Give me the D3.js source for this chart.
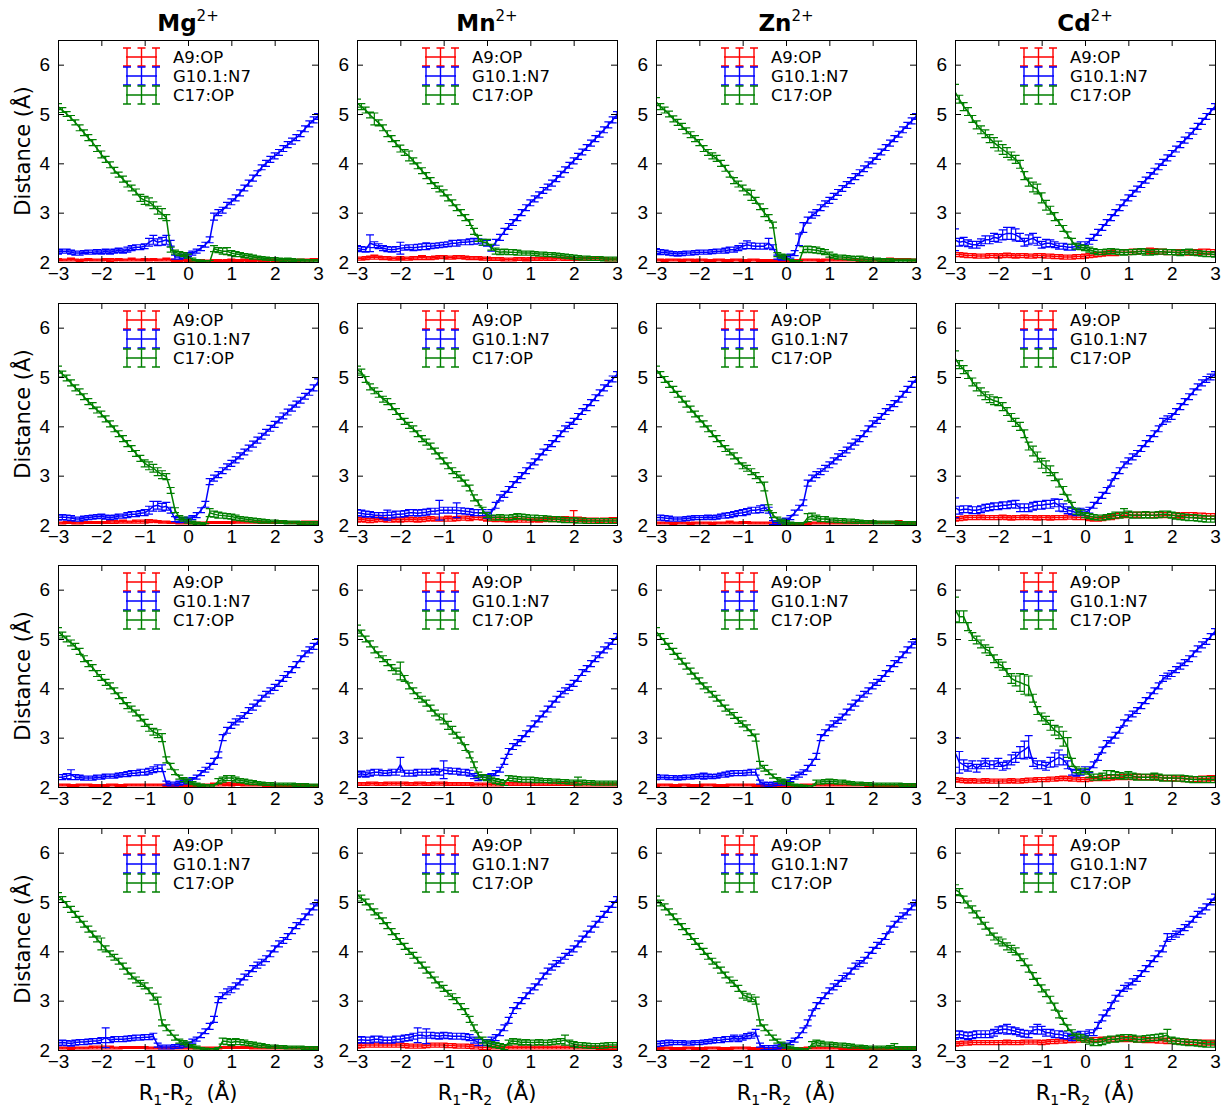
<!DOCTYPE html>
<html>
<head>
<meta charset="utf-8">
<script src="https://d3js.org/d3.v7.min.js"></script>
<style>
  body { margin: 0; background: #fff; }
  svg { font-family: "DejaVu Sans", sans-serif; }
  .tick line { stroke: #000; stroke-width: 1; }
  .tick text { font-size: 19px; fill: #000; }
</style>
</head>
<body>
<script>
// x grid (R1-R2, Å)
var xs = [-3,-2.9,-2.8,-2.7,-2.6,-2.5,-2.4,-2.3,-2.2,-2.1,-2,-1.9,-1.8,-1.7,-1.6,-1.5,-1.4,-1.3,-1.2,-1.1,
  -1,-0.9,-0.8,-0.7,-0.6,-0.5,-0.4,-0.3,-0.2,-0.1,0,0.1,0.2,0.3,0.4,0.5,0.6,0.7,0.8,0.9,1,
  1.1,1.2,1.3,1.4,1.5,1.6,1.7,1.8,1.9,2,2.1,2.2,2.3,2.4,2.5,2.6,2.7,2.8,2.9,3];
var ions = ["Mg", "Mn", "Zn", "Cd"];
var seriesNames = ["A9:OP", "G10.1:N7", "C17:OP"];
var xTicks = [-3, -2, -1, 0, 1, 2, 3];
var yTicks = [2, 3, 4, 5, 6];

// distances (Å); *_err = error bar half-length in 0.01 Å

// ---- row 1 ----
var mg1_a9 = [2.05,2.04,2.04,2.05,2.04,2.03,2.04,2.05,2.04,2.04, 2.04,2.05,2.04,2.04,2.05,2.04,2.04,2.05,2.04,2.04,
  2.05,2.04,2.05,2.04,2.04,2.05,2.04,2.03,2.03,2.04, 2.03,
  2.02,2.02,2.03,2.02,2.02,2.03,2.03,2.02,2.03,2.04, 2.03,2.03,2.04,2.03,2.03,2.04,2.03,2.03,2.04,2.03,
  2.03,2.03,2.04,2.04,2.03,2.04,2.04,2.04,2.05,2.05];
var mg1_n7 = [2.20,2.22,2.22,2.20,2.18,2.18,2.20,2.20,2.20,2.21, 2.20,2.22,2.20,2.22,2.24,2.22,2.25,2.28,2.30,2.30,
  2.32,2.40,2.45,2.40,2.42,2.45,2.38,2.10,2.10,2.12, 2.15,
  2.18,2.22,2.28,2.35,2.45,2.92,3.00,3.05,3.15,3.22, 3.30,3.40,3.50,3.60,3.70,3.80,3.92,4.00,4.08,4.15,
  4.22,4.30,4.38,4.45,4.52,4.60,4.70,4.80,4.88,4.95];
var mg1_c17 = [5.15,5.08,5.00,4.92,4.83,4.72,4.62,4.52,4.42,4.30, 4.18,4.08,3.97,3.86,3.77,3.68,3.58,3.50,3.42,3.30,
  3.25,3.22,3.15,3.05,2.98,2.90,2.25,2.20,2.17,2.15, 2.12,
  2.05,2.02,2.01,2.00,2.00,2.27,2.24,2.22,2.22,2.18, 2.16,2.15,2.13,2.12,2.10,2.09,2.08,2.07,2.06,2.06,
  2.05,2.04,2.05,2.04,2.03,2.03,2.02,2.02,2.02,2.02];
var mg1_a9_err = [2,2,2,3,2,2,2,2,2,2, 2,2,3,2,2,2,2,3,2,2, 2,2,2,2,2,3,2,2,2,2, 2,
  2,2,2,2,2,2,2,2,2,2, 2,2,2,2,2,2,2,2,2,2, 2,2,2,2,2,2,2,2,2,2];
var mg1_n7_err = [4,4,4,4,4,4,3,4,4,4, 4,4,4,4,4,4,5,5,5,5, 5,8,9,7,8,9,6,4,4,4, 4,
  4,4,5,5,6,7,6,6,6,6, 6,6,6,6,6,5,5,6,6,6, 6,6,6,6,6,6,6,6,6,6];
var mg1_c17_err = [6,5,5,5,5,6,6,6,6,6, 7,6,6,6,5,6,6,6,6,7, 8,8,7,8,10,6,5,4,4,4, 4,
  3,3,3,3,3,6,5,6,7,5, 5,4,4,4,4,3,3,3,3,3, 3,3,3,3,3,3,3,3,3,3];

var mn1_a9 = [2.07,2.07,2.08,2.09,2.10,2.09,2.08,2.08,2.07,2.07, 2.08,2.07,2.07,2.08,2.08,2.09,2.08,2.08,2.09,2.10,
  2.10,2.09,2.09,2.10,2.10,2.09,2.08,2.08,2.08,2.07, 2.07,
  2.06,2.06,2.06,2.05,2.05,2.05,2.06,2.06,2.05,2.06, 2.06,2.06,2.07,2.06,2.06,2.07,2.07,2.06,2.06,2.06,
  2.06,2.07,2.06,2.06,2.06,2.06,2.06,2.05,2.05,2.05];
var mn1_n7 = [2.28,2.26,2.25,2.38,2.35,2.32,2.28,2.26,2.25,2.26, 2.28,2.29,2.30,2.29,2.30,2.31,2.32,2.32,2.33,2.34,
  2.35,2.36,2.38,2.38,2.40,2.40,2.41,2.42,2.42,2.40, 2.38,
  2.28,2.40,2.50,2.62,2.72,2.80,2.90,3.00,3.10,3.20, 3.28,3.36,3.45,3.52,3.60,3.69,3.78,3.87,3.96,4.05,
  4.14,4.23,4.32,4.41,4.50,4.59,4.68,4.78,4.88,4.98];
var mn1_c17 = [5.22,5.15,5.08,4.98,4.90,4.82,4.72,4.60,4.50,4.40, 4.30,4.22,4.15,4.05,3.95,3.85,3.75,3.65,3.55,3.48,
  3.40,3.30,3.20,3.10,3.00,2.90,2.80,2.62,2.48,2.40, 2.40,
  2.30,2.22,2.20,2.21,2.20,2.20,2.19,2.18,2.18,2.18, 2.17,2.16,2.16,2.15,2.15,2.14,2.13,2.12,2.11,2.10,
  2.09,2.08,2.08,2.07,2.07,2.07,2.06,2.06,2.06,2.06];
var mn1_a9_err = [3,3,3,3,4,3,3,3,3,3, 3,3,3,3,3,4,3,3,3,3, 3,3,3,3,3,3,3,3,3,3, 3,
  3,3,3,3,3,3,3,3,3,3, 3,3,3,3,3,3,3,3,3,3, 3,3,3,3,3,3,3,3,3,3];
var mn1_n7_err = [5,5,5,17,6,5,5,5,5,5, 12,5,5,6,6,6,7,5,5,5, 5,5,6,6,5,5,6,6,5,6, 6,
  6,6,6,6,6,6,6,6,6,6, 6,6,6,6,6,6,6,6,6,6, 6,6,6,6,6,6,6,6,6,7];
var mn1_c17_err = [8,6,6,6,12,6,6,6,6,6, 7,6,10,6,6,6,6,6,6,6, 6,6,6,6,6,6,6,6,6,6, 6,
  6,6,5,5,5,5,5,4,4,4, 4,4,4,4,4,4,4,4,4,4, 4,4,4,4,4,4,4,4,4,4];

var zn1_a9 = [2.04,2.04,2.03,2.04,2.04,2.04,2.03,2.04,2.04,2.03, 2.04,2.04,2.03,2.03,2.04,2.04,2.03,2.03,2.04,2.04,
  2.03,2.03,2.04,2.04,2.03,2.03,2.03,2.03,2.03,2.03, 2.03,
  2.03,2.03,2.03,2.04,2.04,2.04,2.04,2.03,2.04,2.04, 2.04,2.04,2.04,2.04,2.04,2.04,2.03,2.04,2.04,2.04,
  2.04,2.04,2.04,2.05,2.05,2.05,2.05,2.05,2.04,2.04];
var zn1_n7 = [2.22,2.20,2.20,2.18,2.17,2.16,2.17,2.18,2.18,2.19, 2.20,2.20,2.20,2.21,2.22,2.22,2.23,2.25,2.25,2.28,
  2.32,2.35,2.33,2.32,2.32,2.32,2.38,2.30,2.10,2.08, 2.10,
  2.12,2.18,2.45,2.70,2.85,2.95,3.00,3.10,3.18,3.25, 3.33,3.41,3.49,3.57,3.65,3.73,3.81,3.89,3.97,4.05,
  4.14,4.23,4.32,4.41,4.50,4.59,4.68,4.77,4.86,4.95];
var zn1_c17 = [5.25,5.15,5.08,5.00,4.90,4.83,4.75,4.66,4.58,4.50, 4.42,4.30,4.22,4.15,4.10,4.00,3.90,3.78,3.65,3.58,
  3.50,3.42,3.35,3.25,3.12,3.00,2.90,2.75,2.15,2.12, 2.10,
  2.02,2.00,2.00,2.25,2.26,2.25,2.24,2.22,2.20,2.15, 2.12,2.10,2.10,2.09,2.08,2.07,2.06,2.06,2.05,2.05,
  2.05,2.04,2.04,2.04,2.03,2.03,2.03,2.03,2.03,2.03];
var zn1_a9_err = [2,2,2,2,2,2,2,2,2,2, 2,2,2,2,2,2,2,2,2,2, 2,2,2,2,2,2,2,2,2,2, 2,
  2,2,2,2,2,2,2,2,2,2, 2,2,2,2,2,2,2,2,2,2, 2,2,2,3,2,2,2,2,2,2];
var zn1_n7_err = [5,5,4,4,4,4,4,4,4,4, 4,4,4,4,4,4,5,5,5,5, 6,8,6,6,6,6,10,5,4,4, 4,
  4,5,12,10,6,6,6,6,6,6, 6,6,6,6,6,6,6,6,6,6, 6,6,6,6,6,6,6,6,6,6];
var zn1_c17_err = [8,6,6,6,6,6,6,6,6,6, 6,6,6,6,6,6,6,6,6,6, 6,6,10,6,6,8,6,6,4,4, 4,
  3,3,3,6,6,6,6,5,5,5, 4,4,4,4,4,4,6,4,4,3, 3,3,3,3,3,3,3,3,3,3];

var cd1_a9 = [2.15,2.15,2.14,2.13,2.13,2.12,2.12,2.12,2.13,2.13, 2.12,2.13,2.14,2.13,2.12,2.13,2.13,2.12,2.12,2.13,
  2.13,2.12,2.12,2.11,2.11,2.10,2.10,2.10,2.11,2.11, 2.12,
  2.13,2.14,2.15,2.16,2.18,2.18,2.19,2.20,2.20,2.20, 2.21,2.21,2.22,2.22,2.22,2.22,2.21,2.21,2.20,2.20,
  2.20,2.20,2.20,2.19,2.20,2.20,2.21,2.21,2.20,2.20];
var cd1_n7 = [2.45,2.40,2.42,2.38,2.35,2.35,2.40,2.45,2.45,2.50, 2.48,2.55,2.58,2.58,2.55,2.50,2.40,2.45,2.48,2.42,
  2.35,2.38,2.38,2.35,2.32,2.32,2.30,2.30,2.32,2.35, 2.35,
  2.42,2.50,2.60,2.70,2.80,2.90,3.00,3.10,3.20,3.30, 3.39,3.48,3.57,3.66,3.75,3.84,3.93,4.02,4.11,4.20,
  4.29,4.38,4.47,4.56,4.65,4.75,4.85,4.95,5.05,5.15];
var cd1_c17 = [5.45,5.30,5.15,5.05,4.90,4.78,4.68,4.60,4.50,4.42, 4.35,4.28,4.22,4.15,4.08,3.98,3.75,3.62,3.52,3.48,
  3.30,3.15,3.05,2.92,2.80,2.68,2.55,2.42,2.32,2.30, 2.28,
  2.25,2.22,2.20,2.20,2.21,2.22,2.21,2.20,2.19,2.20, 2.20,2.21,2.22,2.20,2.19,2.20,2.21,2.21,2.20,2.20,
  2.19,2.18,2.20,2.21,2.19,2.18,2.17,2.16,2.16,2.15];
var cd1_a9_err = [4,4,4,4,4,4,4,4,4,4, 4,4,4,4,4,4,4,4,4,4, 4,4,4,4,4,4,4,4,4,4, 4,
  4,4,4,4,4,5,6,5,5,5, 5,5,5,5,6,5,5,5,5,5, 5,5,5,5,5,5,5,5,5,5];
var cd1_n7_err = [22,8,8,7,7,7,7,8,8,8, 8,10,12,12,12,8,8,10,10,8, 7,8,7,6,6,6,6,6,6,6, 6,
  6,6,6,6,6,6,6,6,6,6, 6,6,6,6,6,6,6,6,6,6, 6,6,6,6,6,6,6,6,6,6];
var cd1_c17_err = [15,8,8,8,7,8,8,8,8,10, 10,10,10,8,8,8,8,8,10,10, 10,10,8,8,6,6,6,6,6,5, 5,
  5,5,5,5,5,5,5,5,5,5, 5,5,5,6,5,5,5,5,5,5, 5,5,5,5,5,5,5,5,5,5];

// ---- row 2 ----
var mg2_a9 = [2.04,2.04,2.05,2.05,2.04,2.04,2.05,2.05,2.05,2.05, 2.05,2.05,2.06,2.06,2.06,2.07,2.06,2.06,2.07,2.07,
  2.07,2.08,2.08,2.07,2.06,2.06,2.05,2.05,2.04,2.04, 2.04,
  2.04,2.04,2.04,2.04,2.05,2.05,2.05,2.05,2.05,2.05, 2.06,2.06,2.06,2.06,2.06,2.06,2.05,2.05,2.05,2.05,
  2.05,2.05,2.05,2.05,2.05,2.05,2.06,2.06,2.06,2.06];
var mg2_n7 = [2.15,2.16,2.15,2.14,2.12,2.12,2.14,2.15,2.16,2.17, 2.18,2.16,2.15,2.16,2.18,2.18,2.20,2.22,2.22,2.24,
  2.25,2.30,2.38,2.40,2.36,2.38,2.30,2.12,2.10,2.10, 2.12,
  2.15,2.20,2.30,2.42,2.88,2.95,3.02,3.10,3.18,3.25, 3.32,3.40,3.48,3.56,3.64,3.72,3.80,3.88,3.96,4.04,
  4.13,4.21,4.29,4.37,4.45,4.53,4.61,4.69,4.78,4.90];
var mg2_c17 = [5.15,5.06,4.98,4.88,4.78,4.70,4.60,4.50,4.42,4.33, 4.25,4.15,4.05,3.95,3.85,3.75,3.65,3.55,3.45,3.35,
  3.25,3.20,3.15,3.08,3.02,2.98,2.70,2.30,2.15,2.12, 2.08,
  2.05,2.03,2.02,2.00,2.25,2.22,2.20,2.19,2.18,2.17, 2.15,2.13,2.12,2.11,2.10,2.09,2.08,2.08,2.07,2.07,
  2.06,2.06,2.05,2.05,2.05,2.04,2.04,2.04,2.04,2.04];
var mg2_a9_err = [2,2,2,2,2,2,2,2,2,2, 2,2,3,3,2,3,2,2,3,3, 3,3,2,2,2,2,2,2,2,2, 2,
  2,2,2,2,2,2,2,2,2,2, 2,2,2,2,2,2,2,2,2,2, 2,2,2,2,2,2,2,2,2,2];
var mg2_n7_err = [5,5,5,5,4,4,4,4,4,4, 4,4,4,4,4,4,5,5,5,5, 6,8,10,8,8,8,6,5,5,4, 4,
  4,5,5,6,6,6,6,6,6,6, 6,6,6,6,6,6,6,6,6,6, 6,6,6,6,6,6,6,6,6,6];
var mg2_c17_err = [7,6,6,6,6,6,6,6,6,6, 6,6,6,6,6,6,6,6,6,6, 7,8,8,8,8,6,6,5,4,4, 4,
  3,3,3,3,8,6,6,5,5,5, 5,4,4,4,4,4,4,3,3,3, 3,3,3,3,3,3,3,3,3,3];

var mn2_a9 = [2.10,2.11,2.10,2.09,2.10,2.12,2.11,2.10,2.10,2.11, 2.10,2.11,2.12,2.11,2.10,2.11,2.12,2.13,2.12,2.12,
  2.12,2.13,2.12,2.13,2.14,2.14,2.13,2.15,2.15,2.14, 2.12,
  2.12,2.11,2.12,2.11,2.10,2.11,2.10,2.10,2.10,2.10, 2.11,2.10,2.11,2.12,2.11,2.12,2.12,2.13,2.12,2.14,
  2.12,2.11,2.10,2.10,2.10,2.09,2.10,2.10,2.10,2.10];
var mn2_n7 = [2.25,2.24,2.22,2.22,2.20,2.20,2.19,2.20,2.20,2.22, 2.22,2.23,2.25,2.25,2.24,2.25,2.26,2.28,2.28,2.30,
  2.30,2.30,2.30,2.30,2.29,2.28,2.27,2.25,2.25,2.25, 2.20,
  2.25,2.40,2.55,2.62,2.72,2.82,2.92,3.00,3.10,3.20, 3.28,3.38,3.48,3.57,3.65,3.75,3.85,3.95,4.02,4.10,
  4.20,4.30,4.38,4.48,4.58,4.68,4.78,4.87,4.96,5.05];
var mn2_c17 = [5.15,5.10,4.95,4.80,4.72,4.65,4.55,4.50,4.40,4.30, 4.20,4.10,4.02,3.95,3.85,3.75,3.68,3.60,3.50,3.40,
  3.30,3.20,3.10,3.02,2.95,2.85,2.75,2.55,2.45,2.30, 2.20,
  2.15,2.15,2.16,2.15,2.15,2.16,2.18,2.17,2.16,2.15, 2.15,2.14,2.14,2.13,2.12,2.12,2.11,2.10,2.10,2.10,
  2.09,2.09,2.08,2.08,2.08,2.08,2.08,2.08,2.08,2.08];
var mn2_a9_err = [4,4,4,4,4,4,4,4,4,4, 4,4,4,4,4,4,4,4,4,4, 4,5,4,4,4,4,4,4,4,4, 4,
  4,4,4,4,4,4,4,4,4,4, 4,4,4,4,4,4,4,4,4,15, 4,4,4,4,4,4,4,4,5,5];
var mn2_n7_err = [6,6,6,5,5,5,6,10,6,6, 6,6,6,6,6,6,6,6,6,20, 6,6,6,15,6,6,6,6,6,6, 6,
  6,6,6,6,6,6,6,6,6,6, 6,6,6,6,6,6,6,6,6,6, 6,6,6,6,6,6,6,6,6,6];
var mn2_c17_err = [7,6,6,6,6,6,6,6,6,6, 6,6,6,6,6,6,6,6,6,6, 6,6,6,6,6,6,6,6,6,6, 5,
  5,5,5,5,5,5,5,5,5,5, 5,5,5,5,5,5,5,5,5,5, 5,5,5,5,5,5,5,5,5,5];

var zn2_a9 = [2.04,2.04,2.04,2.04,2.03,2.04,2.04,2.04,2.03,2.04, 2.04,2.04,2.04,2.03,2.04,2.04,2.04,2.05,2.04,2.04,
  2.05,2.05,2.04,2.04,2.04,2.04,2.04,2.04,2.03,2.03, 2.03,
  2.03,2.03,2.03,2.03,2.03,2.04,2.04,2.04,2.04,2.04, 2.04,2.04,2.04,2.04,2.04,2.04,2.05,2.04,2.04,2.05,
  2.05,2.05,2.05,2.05,2.05,2.06,2.05,2.05,2.05,2.05];
var zn2_n7 = [2.15,2.15,2.14,2.13,2.12,2.12,2.12,2.13,2.14,2.15, 2.15,2.15,2.16,2.15,2.16,2.18,2.19,2.20,2.22,2.24,
  2.25,2.27,2.30,2.30,2.32,2.35,2.30,2.05,2.05,2.08, 2.10,
  2.15,2.25,2.35,2.45,2.85,2.95,3.02,3.08,3.15,3.22, 3.30,3.38,3.45,3.52,3.60,3.68,3.75,3.85,3.95,4.05,
  4.12,4.20,4.30,4.38,4.46,4.55,4.65,4.75,4.85,4.95];
var zn2_c17 = [5.15,5.05,4.95,4.85,4.75,4.65,4.55,4.45,4.35,4.25, 4.15,4.05,3.95,3.85,3.75,3.65,3.55,3.48,3.40,3.30,
  3.20,3.15,3.08,3.00,2.92,2.78,2.35,2.20,2.12,2.08, 2.05,
  2.03,2.02,2.02,2.02,2.15,2.18,2.15,2.12,2.12,2.10, 2.10,2.09,2.09,2.08,2.08,2.07,2.07,2.06,2.06,2.06,
  2.05,2.05,2.05,2.05,2.05,2.04,2.04,2.04,2.04,2.04];
var zn2_a9_err = [2,2,2,2,2,2,2,2,2,2, 2,2,2,2,2,2,2,3,2,2, 2,2,2,2,2,2,2,2,2,2, 2,
  2,2,2,2,2,2,2,2,2,2, 2,2,2,2,2,2,2,2,2,2, 2,2,2,2,2,3,2,2,2,2];
var zn2_n7_err = [5,5,5,5,4,4,4,4,4,4, 4,4,4,4,4,4,5,5,5,5, 6,6,6,6,7,6,6,4,4,4, 4,
  4,5,5,6,6,6,6,6,6,6, 6,6,6,6,6,6,6,6,6,6, 6,6,6,6,6,6,6,6,6,6];
var zn2_c17_err = [7,6,6,6,6,6,6,6,6,6, 6,6,6,6,6,6,6,6,6,6, 6,6,6,6,6,9,6,5,4,4, 4,
  3,3,3,3,8,6,5,5,5,4, 4,4,4,4,4,4,3,3,3,3, 3,3,3,3,3,3,3,3,3,3];

var cd2_a9 = [2.12,2.13,2.14,2.15,2.15,2.15,2.16,2.15,2.15,2.15, 2.15,2.16,2.15,2.14,2.15,2.15,2.16,2.15,2.15,2.14,
  2.15,2.15,2.14,2.15,2.15,2.15,2.16,2.16,2.15,2.15, 2.15,
  2.13,2.12,2.12,2.13,2.15,2.16,2.18,2.20,2.20,2.20, 2.20,2.21,2.20,2.20,2.20,2.20,2.21,2.20,2.20,2.20,
  2.20,2.19,2.20,2.20,2.20,2.19,2.19,2.18,2.18,2.18];
var cd2_n7 = [2.35,2.30,2.32,2.32,2.30,2.30,2.32,2.35,2.36,2.38, 2.38,2.40,2.40,2.42,2.42,2.35,2.35,2.35,2.38,2.40,
  2.40,2.42,2.42,2.45,2.40,2.35,2.30,2.28,2.25,2.28, 2.25,
  2.30,2.40,2.50,2.60,2.70,2.85,3.00,3.10,3.22,3.30, 3.38,3.45,3.55,3.65,3.75,3.85,3.95,4.10,4.15,4.20,
  4.30,4.40,4.50,4.60,4.70,4.80,4.88,4.95,5.00,5.05];
var cd2_c17 = [5.38,5.25,5.15,5.05,4.90,4.80,4.70,4.62,4.56,4.52, 4.50,4.40,4.30,4.18,4.08,4.00,3.85,3.60,3.50,3.38,
  3.25,3.18,3.10,2.98,2.85,2.70,2.55,2.40,2.28,2.25, 2.20,
  2.18,2.16,2.15,2.15,2.16,2.18,2.20,2.20,2.25,2.22, 2.20,2.20,2.20,2.21,2.20,2.20,2.21,2.22,2.22,2.20,
  2.18,2.17,2.16,2.15,2.15,2.14,2.13,2.12,2.12,2.12];
var cd2_a9_err = [4,4,4,4,4,4,4,4,4,4, 4,4,4,4,4,4,4,4,4,4, 4,4,4,4,4,4,4,4,4,4, 4,
  4,4,4,4,4,5,5,5,5,5, 5,5,5,5,5,5,5,5,5,5, 5,5,5,5,5,5,5,5,5,5];
var cd2_n7_err = [20,8,7,7,7,7,7,7,7,7, 7,7,7,7,8,8,8,8,8,8, 8,8,8,8,12,8,7,7,6,6, 6,
  6,6,6,6,6,6,6,6,6,6, 6,6,6,6,6,6,6,6,6,6, 6,6,6,6,6,6,6,6,6,6];
var cd2_c17_err = [15,8,8,8,8,8,8,8,8,8, 8,8,8,8,8,8,8,8,10,10, 10,12,10,8,8,8,6,6,6,5, 5,
  5,5,5,5,5,5,6,6,8,6, 6,6,6,6,6,6,6,6,6,6, 6,6,6,6,6,6,6,6,6,6];

// ---- row 3 ----
var mg3_a9 = [2.04,2.04,2.04,2.03,2.03,2.04,2.04,2.04,2.03,2.03, 2.03,2.03,2.04,2.04,2.03,2.03,2.04,2.04,2.04,2.04,
  2.04,2.04,2.04,2.04,2.04,2.03,2.03,2.03,2.03,2.03, 2.03,
  2.02,2.03,2.03,2.04,2.04,2.05,2.05,2.05,2.06,2.05, 2.05,2.05,2.04,2.04,2.04,2.04,2.04,2.03,2.03,2.03,
  2.03,2.03,2.03,2.03,2.03,2.03,2.03,2.03,2.03,2.03];
var mg3_n7 = [2.20,2.20,2.22,2.25,2.20,2.20,2.18,2.18,2.18,2.20, 2.20,2.22,2.22,2.22,2.24,2.25,2.26,2.28,2.28,2.30,
  2.30,2.32,2.35,2.38,2.38,2.08,2.06,2.06,2.08,2.10, 2.12,
  2.15,2.20,2.28,2.35,2.42,2.52,2.65,3.00,3.15,3.25, 3.32,3.38,3.45,3.55,3.62,3.70,3.80,3.88,3.95,4.02,
  4.10,4.20,4.28,4.38,4.48,4.60,4.70,4.78,4.85,4.95];
var mg3_c17 = [5.15,5.08,5.00,4.92,4.85,4.75,4.60,4.50,4.42,4.30, 4.22,4.12,4.05,3.95,3.85,3.75,3.65,3.58,3.50,3.40,
  3.30,3.20,3.12,3.08,3.00,2.55,2.42,2.30,2.20,2.15, 2.12,
  2.08,2.05,2.03,2.02,2.02,2.02,2.12,2.15,2.18,2.18, 2.15,2.13,2.12,2.10,2.09,2.08,2.07,2.06,2.06,2.05,
  2.05,2.05,2.05,2.05,2.04,2.04,2.04,2.03,2.03,2.03];
var mg3_a9_err = [2,2,2,2,2,2,2,2,2,2, 2,2,2,2,2,2,2,2,2,2, 2,2,2,2,2,2,2,2,2,2, 2,
  2,2,2,2,2,3,3,3,3,3, 2,2,2,2,2,2,2,2,2,2, 2,2,2,2,2,2,2,2,2,2];
var mg3_n7_err = [5,5,5,10,5,4,4,4,4,4, 4,4,4,4,4,4,5,5,5,6, 6,6,6,7,7,4,4,4,4,4, 4,
  4,4,5,5,6,6,6,6,6,6, 6,6,6,6,6,6,6,6,6,6, 6,6,6,6,6,6,6,6,6,6];
var mg3_c17_err = [8,6,6,6,6,6,6,6,6,6, 6,6,6,6,6,6,6,6,6,6, 7,7,7,8,8,6,6,5,4,4, 4,
  3,3,3,3,3,3,5,5,5,5, 5,4,4,4,4,3,3,3,3,3, 3,3,3,3,3,3,3,3,3,3];

var mn3_a9 = [2.06,2.06,2.06,2.07,2.07,2.06,2.06,2.07,2.07,2.07, 2.07,2.07,2.06,2.06,2.07,2.07,2.06,2.06,2.07,2.07,
  2.07,2.06,2.06,2.06,2.06,2.06,2.06,2.05,2.05,2.05, 2.05,
  2.05,2.05,2.05,2.06,2.06,2.06,2.06,2.06,2.06,2.06, 2.06,2.06,2.06,2.06,2.06,2.06,2.06,2.06,2.06,2.06,
  2.05,2.05,2.05,2.05,2.05,2.05,2.05,2.05,2.05,2.05];
var mn3_n7 = [2.25,2.27,2.25,2.28,2.30,2.30,2.28,2.28,2.30,2.30, 2.45,2.28,2.28,2.28,2.30,2.30,2.30,2.30,2.32,2.30,
  2.35,2.33,2.32,2.32,2.30,2.30,2.28,2.22,2.18,2.20, 2.20,
  2.22,2.28,2.35,2.52,2.72,2.82,2.90,2.98,3.08,3.18, 3.28,3.38,3.48,3.58,3.68,3.78,3.88,3.95,4.02,4.10,
  4.20,4.32,4.40,4.50,4.60,4.68,4.78,4.86,4.95,5.05];
var mn3_c17 = [5.20,5.12,5.00,4.90,4.78,4.68,4.60,4.52,4.42,4.35, 4.35,4.20,4.05,3.95,3.85,3.78,3.70,3.60,3.50,3.42,
  3.38,3.25,3.15,3.05,2.95,2.80,2.65,2.45,2.25,2.20, 2.18,
  2.15,2.12,2.10,2.08,2.18,2.17,2.16,2.15,2.15,2.15, 2.14,2.14,2.13,2.13,2.12,2.12,2.11,2.11,2.10,2.10,
  2.12,2.10,2.09,2.09,2.08,2.08,2.08,2.08,2.08,2.08];
var mn3_a9_err = [3,3,3,3,3,3,3,3,3,3, 3,3,3,3,3,3,3,3,3,3, 3,3,3,3,3,3,3,3,3,3, 3,
  3,3,3,3,3,3,3,3,3,3, 3,3,3,3,3,3,3,3,3,3, 3,3,3,3,3,3,3,3,3,3];
var mn3_n7_err = [5,5,5,6,6,6,5,5,6,6, 15,6,6,6,6,6,6,6,6,6, 18,6,6,6,6,6,6,5,5,5, 5,
  5,5,5,6,6,6,6,6,6,6, 6,6,6,6,6,6,6,6,6,6, 6,6,6,6,6,6,6,6,6,6];
var mn3_c17_err = [8,6,6,6,6,6,6,6,6,6, 18,6,6,6,6,6,6,6,6,6, 10,8,8,6,6,6,6,6,5,5, 5,
  5,5,5,5,5,5,5,5,5,5, 5,4,4,4,4,4,4,4,4,4, 8,4,4,4,4,4,4,4,4,4];

var zn3_a9 = [2.03,2.04,2.04,2.04,2.03,2.03,2.04,2.04,2.03,2.03, 2.03,2.04,2.04,2.04,2.03,2.03,2.03,2.04,2.04,2.04,
  2.04,2.04,2.04,2.03,2.03,2.03,2.03,2.03,2.03,2.03, 2.03,
  2.03,2.03,2.03,2.04,2.04,2.04,2.04,2.04,2.04,2.04, 2.04,2.04,2.04,2.04,2.04,2.04,2.04,2.04,2.03,2.03,
  2.03,2.03,2.03,2.03,2.03,2.03,2.03,2.03,2.03,2.03];
var zn3_n7 = [2.20,2.20,2.20,2.19,2.19,2.18,2.19,2.20,2.20,2.21, 2.22,2.22,2.22,2.21,2.22,2.24,2.25,2.27,2.28,2.28,
  2.28,2.29,2.30,2.30,2.10,2.06,2.05,2.06,2.07,2.08, 2.10,
  2.15,2.20,2.25,2.30,2.38,2.50,2.62,3.00,3.10,3.20, 3.28,3.35,3.42,3.52,3.62,3.70,3.80,3.88,3.95,4.05,
  4.12,4.20,4.30,4.40,4.50,4.58,4.68,4.78,4.88,4.95];
var zn3_c17 = [5.15,5.05,4.95,4.85,4.75,4.65,4.55,4.45,4.35,4.25, 4.15,4.05,3.97,3.88,3.80,3.70,3.60,3.52,3.45,3.35,
  3.28,3.20,3.10,3.00,2.45,2.38,2.30,2.22,2.15,2.12, 2.10,
  2.06,2.03,2.02,2.01,2.00,2.00,2.10,2.10,2.11,2.12, 2.11,2.10,2.10,2.09,2.08,2.07,2.07,2.06,2.06,2.05,
  2.05,2.05,2.05,2.05,2.05,2.05,2.04,2.04,2.04,2.04];
var zn3_a9_err = [2,2,2,2,2,2,2,2,2,2, 2,2,2,2,2,2,2,2,2,2, 2,2,2,2,2,2,2,2,2,2, 2,
  2,2,2,2,2,2,2,2,2,2, 2,2,2,2,2,2,2,2,2,2, 2,2,2,2,2,2,2,2,2,2];
var zn3_n7_err = [5,4,4,4,4,4,4,4,4,4, 4,6,4,4,4,4,5,5,5,5, 5,5,6,6,4,4,4,4,4,4, 4,
  4,4,5,5,6,6,6,6,6,6, 6,6,6,6,6,6,6,6,6,6, 6,6,6,6,6,6,6,6,6,6];
var zn3_c17_err = [8,6,6,6,6,6,6,6,6,6, 6,6,6,6,6,6,6,6,6,6, 6,6,6,7,7,6,5,4,4,4, 4,
  3,3,3,3,3,3,4,4,4,4, 4,4,4,3,3,3,3,3,3,3, 3,3,3,3,3,3,3,3,3,3];

var cd3_a9 = [2.15,2.14,2.13,2.12,2.13,2.12,2.12,2.13,2.12,2.12, 2.12,2.12,2.12,2.13,2.12,2.12,2.13,2.14,2.14,2.15,
  2.15,2.15,2.16,2.16,2.17,2.18,2.17,2.16,2.16,2.15, 2.15,
  2.16,2.17,2.17,2.18,2.18,2.19,2.20,2.20,2.20,2.20, 2.20,2.21,2.20,2.20,2.20,2.19,2.19,2.18,2.18,2.18,
  2.17,2.17,2.16,2.16,2.15,2.16,2.17,2.17,2.18,2.18];
var cd3_n7 = [2.70,2.50,2.45,2.40,2.45,2.38,2.45,2.50,2.45,2.45, 2.50,2.42,2.45,2.55,2.60,2.70,2.75,2.82,2.50,2.45,
  2.45,2.42,2.50,2.55,2.60,2.55,2.45,2.30,2.28,2.30, 2.35,
  2.35,2.45,2.60,2.75,2.88,2.95,3.05,3.15,3.30,3.40, 3.48,3.55,3.65,3.75,3.85,3.95,4.05,4.20,4.25,4.30,
  4.38,4.45,4.52,4.60,4.70,4.80,4.88,4.95,5.05,5.15];
var cd3_c17 = [5.60,5.45,5.45,5.25,5.05,4.98,4.90,4.80,4.75,4.60, 4.50,4.45,4.32,4.20,4.15,4.12,4.08,4.05,3.80,3.55,
  3.42,3.35,3.25,3.15,3.10,2.98,2.80,2.50,2.35,2.32, 2.32,
  2.25,2.20,2.20,2.22,2.25,2.25,2.25,2.23,2.22,2.25, 2.22,2.20,2.20,2.20,2.20,2.22,2.20,2.18,2.18,2.18,
  2.18,2.18,2.17,2.16,2.15,2.15,2.15,2.15,2.15,2.15];
var cd3_a9_err = [4,4,4,4,4,4,4,4,4,4, 4,4,4,4,4,4,4,4,4,4, 4,4,4,4,4,4,4,4,4,4, 4,
  4,4,4,5,5,5,5,5,5,5, 5,5,5,5,5,5,5,5,5,5, 5,5,5,5,5,5,5,5,5,5];
var cd3_n7_err = [30,22,10,8,8,8,8,8,8,8, 8,8,8,10,10,12,18,22,8,8, 8,8,10,14,15,10,8,6,6,6, 6,
  6,6,6,6,6,6,6,6,6,6, 6,6,6,6,6,6,6,6,6,6, 6,6,6,6,6,6,6,6,6,6];
var cd3_c17_err = [25,12,12,8,8,8,8,8,8,8, 8,8,8,10,10,18,20,20,8,8, 8,8,10,10,12,15,20,8,6,6, 6,
  6,6,6,6,8,8,6,6,6,6, 6,6,6,6,6,6,6,6,6,6, 6,6,6,6,6,6,6,6,6,6];

// ---- row 4 ----
var mg4_a9 = [2.04,2.04,2.04,2.03,2.04,2.04,2.04,2.04,2.05,2.05, 2.05,2.05,2.05,2.04,2.04,2.05,2.05,2.05,2.05,2.05,
  2.05,2.04,2.04,2.04,2.04,2.04,2.04,2.04,2.04,2.04, 2.04,
  2.04,2.04,2.04,2.04,2.04,2.04,2.04,2.05,2.05,2.05, 2.05,2.05,2.05,2.05,2.04,2.04,2.04,2.04,2.04,2.04,
  2.04,2.04,2.04,2.04,2.04,2.04,2.04,2.04,2.04,2.04];
var mg4_n7 = [2.14,2.15,2.14,2.13,2.15,2.16,2.16,2.17,2.18,2.18, 2.20,2.25,2.20,2.22,2.22,2.22,2.23,2.24,2.25,2.25,
  2.26,2.26,2.28,2.10,2.06,2.06,2.06,2.07,2.08,2.10, 2.12,
  2.18,2.22,2.30,2.38,2.48,2.62,3.02,3.10,3.18,3.22, 3.30,3.38,3.48,3.55,3.65,3.72,3.78,3.85,3.95,4.05,
  4.15,4.22,4.30,4.42,4.52,4.60,4.70,4.80,4.90,4.98];
var mg4_c17 = [5.12,5.05,4.95,4.85,4.75,4.65,4.55,4.45,4.35,4.25, 4.15,4.05,3.95,3.88,3.80,3.70,3.60,3.50,3.42,3.35,
  3.30,3.20,3.08,3.00,2.55,2.45,2.35,2.25,2.18,2.15, 2.12,
  2.08,2.05,2.02,2.01,2.00,2.00,2.02,2.18,2.17,2.15, 2.17,2.16,2.15,2.13,2.12,2.10,2.09,2.08,2.07,2.07,
  2.06,2.06,2.05,2.05,2.05,2.05,2.04,2.04,2.04,2.04];
var mg4_a9_err = [2,2,2,2,2,2,2,2,3,3, 3,3,3,2,2,2,2,2,2,2, 2,2,2,2,2,2,2,2,2,2, 2,
  2,2,2,2,2,2,2,2,2,2, 2,2,2,2,2,2,2,2,2,2, 2,2,2,2,2,2,2,2,2,2];
var mg4_n7_err = [5,5,5,5,5,5,5,5,5,5, 5,20,5,5,5,5,5,5,5,5, 5,5,6,4,4,4,4,4,4,4, 4,
  4,4,5,5,6,6,6,6,6,6, 6,6,6,6,6,6,6,6,6,6, 6,6,6,6,6,6,6,6,6,6];
var mg4_c17_err = [7,6,6,6,6,6,6,6,6,6, 12,6,6,6,6,6,6,6,6,6, 6,6,7,7,6,6,5,5,4,4, 4,
  3,3,3,3,3,3,3,6,6,6, 6,5,5,4,4,4,4,3,3,3, 3,3,3,3,3,3,3,3,3,3];

var mn4_a9 = [2.08,2.09,2.10,2.10,2.10,2.10,2.10,2.10,2.10,2.10, 2.10,2.09,2.08,2.08,2.08,2.08,2.09,2.10,2.10,2.10,
  2.10,2.09,2.09,2.08,2.08,2.08,2.07,2.06,2.06,2.05, 2.05,
  2.05,2.05,2.05,2.05,2.05,2.05,2.05,2.05,2.05,2.05, 2.05,2.05,2.05,2.05,2.05,2.05,2.05,2.05,2.05,2.05,
  2.05,2.05,2.05,2.05,2.05,2.04,2.04,2.04,2.04,2.04];
var mn4_n7 = [2.20,2.21,2.20,2.20,2.22,2.22,2.20,2.20,2.20,2.22, 2.22,2.24,2.25,2.28,2.30,2.30,2.28,2.30,2.29,2.28,
  2.30,2.29,2.28,2.28,2.28,2.27,2.25,2.20,2.15,2.15, 2.15,
  2.20,2.25,2.35,2.45,2.60,2.80,2.90,3.00,3.10,3.20, 3.28,3.38,3.50,3.60,3.68,3.75,3.82,3.90,3.98,4.05,
  4.15,4.25,4.35,4.45,4.55,4.65,4.75,4.85,4.95,5.05];
var mn4_c17 = [5.15,5.08,5.00,4.90,4.80,4.72,4.62,4.52,4.40,4.30, 4.20,4.10,4.00,3.92,3.82,3.72,3.62,3.52,3.42,3.32,
  3.25,3.15,3.08,3.00,2.88,2.78,2.62,2.45,2.30,2.20, 2.15,
  2.12,2.10,2.08,2.06,2.15,2.18,2.17,2.15,2.16,2.15, 2.15,2.16,2.15,2.15,2.16,2.17,2.18,2.20,2.15,2.12,
  2.10,2.10,2.09,2.08,2.08,2.08,2.09,2.10,2.10,2.10];
var mn4_a9_err = [4,4,4,4,4,4,4,4,4,4, 4,4,4,4,4,4,4,4,4,4, 4,4,4,4,4,4,4,4,4,4, 4,
  3,3,3,3,3,3,3,3,3,3, 3,3,3,3,3,3,3,3,3,3, 3,3,3,3,3,3,3,3,3,3];
var mn4_n7_err = [6,6,6,6,6,6,6,6,6,6, 6,6,6,6,15,6,15,6,6,6, 6,6,6,6,6,6,6,6,6,6, 6,
  6,6,6,6,6,6,6,6,6,6, 6,6,6,6,6,6,6,6,6,6, 6,6,6,6,6,6,6,6,6,6];
var mn4_c17_err = [7,6,6,6,6,6,6,6,6,6, 6,6,6,6,6,6,6,6,6,6, 6,6,6,6,6,6,6,6,6,6, 5,
  5,5,5,5,5,5,5,5,5,5, 5,5,5,5,5,5,5,10,5,5, 5,5,5,5,5,5,5,5,5,5];

var zn4_a9 = [2.03,2.03,2.04,2.04,2.03,2.03,2.03,2.04,2.04,2.03, 2.03,2.03,2.04,2.04,2.04,2.03,2.03,2.03,2.04,2.04,
  2.04,2.04,2.03,2.03,2.03,2.03,2.03,2.03,2.03,2.03, 2.03,
  2.03,2.03,2.03,2.03,2.04,2.04,2.04,2.04,2.04,2.04, 2.04,2.04,2.03,2.03,2.03,2.03,2.03,2.03,2.03,2.03,
  2.03,2.03,2.03,2.03,2.03,2.03,2.03,2.03,2.03,2.03];
var zn4_n7 = [2.12,2.13,2.14,2.15,2.15,2.15,2.15,2.14,2.14,2.15, 2.15,2.16,2.17,2.18,2.20,2.20,2.22,2.22,2.25,2.22,
  2.25,2.28,2.30,2.35,2.10,2.05,2.05,2.05,2.06,2.08, 2.10,
  2.15,2.20,2.30,2.40,2.55,2.75,2.90,3.00,3.10,3.20, 3.28,3.35,3.45,3.50,3.60,3.70,3.75,3.82,3.92,4.02,
  4.12,4.20,4.30,4.45,4.55,4.65,4.72,4.80,4.90,4.98];
var zn4_c17 = [5.05,4.98,4.90,4.80,4.70,4.60,4.50,4.40,4.30,4.20, 4.10,4.00,3.90,3.80,3.72,3.62,3.52,3.42,3.35,3.25,
  3.12,3.08,3.05,3.00,2.55,2.45,2.35,2.25,2.18,2.12, 2.08,
  2.05,2.02,2.01,2.00,2.00,2.12,2.15,2.13,2.12,2.12, 2.11,2.10,2.10,2.09,2.08,2.07,2.07,2.06,2.05,2.05,
  2.05,2.05,2.05,2.06,2.05,2.04,2.04,2.04,2.04,2.04];
var zn4_a9_err = [2,2,2,2,2,2,2,2,2,2, 2,2,2,2,2,2,2,2,2,2, 2,2,2,2,2,2,2,2,2,2, 2,
  2,2,2,2,2,2,2,2,2,2, 2,2,2,2,2,2,2,2,2,2, 2,2,2,2,2,2,2,2,2,2];
var zn4_n7_err = [5,5,5,5,4,4,4,4,4,4, 4,4,4,4,5,5,5,5,5,5, 5,5,6,7,4,4,4,4,4,4, 4,
  4,4,5,5,6,6,6,6,6,6, 6,6,6,6,6,6,6,6,6,6, 6,6,6,6,6,6,6,6,6,6];
var zn4_c17_err = [7,6,6,6,6,6,6,6,6,6, 6,6,6,6,6,6,6,6,6,6, 7,7,7,7,6,6,5,5,4,4, 4,
  3,3,3,3,3,5,5,5,4,4, 4,4,4,4,4,3,3,3,3,3, 3,3,3,3,8,3,3,3,3,3];

var cd4_a9 = [2.12,2.13,2.14,2.14,2.15,2.15,2.15,2.15,2.15,2.15, 2.15,2.15,2.16,2.15,2.15,2.15,2.16,2.16,2.16,2.16,
  2.15,2.16,2.17,2.17,2.18,2.18,2.19,2.19,2.20,2.20, 2.20,
  2.20,2.21,2.21,2.22,2.22,2.22,2.22,2.23,2.22,2.22, 2.22,2.21,2.21,2.20,2.20,2.20,2.19,2.19,2.18,2.18,
  2.18,2.17,2.17,2.16,2.16,2.15,2.15,2.15,2.15,2.15];
var cd4_n7 = [2.30,2.32,2.30,2.28,2.30,2.32,2.32,2.32,2.32,2.35, 2.40,2.42,2.42,2.40,2.38,2.35,2.33,2.32,2.40,2.42,
  2.40,2.35,2.35,2.32,2.32,2.30,2.28,2.25,2.30,2.32, 2.32,
  2.35,2.35,2.50,2.65,2.75,2.90,3.05,3.15,3.25,3.30, 3.38,3.45,3.55,3.65,3.75,3.85,3.95,4.05,4.28,4.30,
  4.35,4.40,4.48,4.55,4.65,4.75,4.82,4.90,5.00,5.10];
var cd4_c17 = [5.25,5.20,5.05,4.95,4.85,4.75,4.62,4.52,4.40,4.30, 4.22,4.18,4.10,4.05,4.00,3.88,3.78,3.65,3.50,3.38,
  3.25,3.15,3.02,2.88,2.72,2.58,2.45,2.35,2.28,2.25, 2.22,
  2.18,2.15,2.15,2.17,2.20,2.22,2.22,2.24,2.25,2.25, 2.24,2.22,2.22,2.23,2.24,2.25,2.26,2.28,2.30,2.20,
  2.18,2.17,2.16,2.15,2.15,2.14,2.13,2.12,2.12,2.12];
var cd4_a9_err = [4,4,4,4,4,4,4,4,4,4, 4,4,4,4,4,4,4,4,4,4, 4,4,4,4,4,4,4,4,4,4, 4,
  4,4,4,4,4,4,5,5,5,5, 5,5,5,5,5,5,5,5,5,5, 5,5,5,5,5,5,5,5,5,5];
var cd4_n7_err = [8,7,7,7,7,7,7,7,7,7, 7,7,10,7,7,7,7,7,7,10, 8,7,7,7,7,7,6,6,6,6, 6,
  6,6,6,6,6,6,6,6,6,6, 6,6,6,6,6,6,6,6,8,6, 6,6,6,6,6,6,6,6,6,6];
var cd4_c17_err = [10,7,7,7,7,7,7,7,7,7, 7,7,7,7,7,7,7,7,7,7, 7,7,7,7,7,6,6,6,6,6, 6,
  6,6,6,6,6,6,6,6,6,6, 6,6,6,6,6,6,6,6,12,6, 6,6,6,6,6,6,6,6,6,6];

// panel table: rows x columns, each [A9, A9 err, N7, N7 err, C17, C17 err]
var panelRows = [
  [[mg1_a9, mg1_a9_err, mg1_n7, mg1_n7_err, mg1_c17, mg1_c17_err],
   [mn1_a9, mn1_a9_err, mn1_n7, mn1_n7_err, mn1_c17, mn1_c17_err],
   [zn1_a9, zn1_a9_err, zn1_n7, zn1_n7_err, zn1_c17, zn1_c17_err],
   [cd1_a9, cd1_a9_err, cd1_n7, cd1_n7_err, cd1_c17, cd1_c17_err]],
  [[mg2_a9, mg2_a9_err, mg2_n7, mg2_n7_err, mg2_c17, mg2_c17_err],
   [mn2_a9, mn2_a9_err, mn2_n7, mn2_n7_err, mn2_c17, mn2_c17_err],
   [zn2_a9, zn2_a9_err, zn2_n7, zn2_n7_err, zn2_c17, zn2_c17_err],
   [cd2_a9, cd2_a9_err, cd2_n7, cd2_n7_err, cd2_c17, cd2_c17_err]],
  [[mg3_a9, mg3_a9_err, mg3_n7, mg3_n7_err, mg3_c17, mg3_c17_err],
   [mn3_a9, mn3_a9_err, mn3_n7, mn3_n7_err, mn3_c17, mn3_c17_err],
   [zn3_a9, zn3_a9_err, zn3_n7, zn3_n7_err, zn3_c17, zn3_c17_err],
   [cd3_a9, cd3_a9_err, cd3_n7, cd3_n7_err, cd3_c17, cd3_c17_err]],
  [[mg4_a9, mg4_a9_err, mg4_n7, mg4_n7_err, mg4_c17, mg4_c17_err],
   [mn4_a9, mn4_a9_err, mn4_n7, mn4_n7_err, mn4_c17, mn4_c17_err],
   [zn4_a9, zn4_a9_err, zn4_n7, zn4_n7_err, zn4_c17, zn4_c17_err],
   [cd4_a9, cd4_a9_err, cd4_n7, cd4_n7_err, cd4_c17, cd4_c17_err]]
];

// ---------- drawing ----------
var colors = ["#ff0000", "#0000ff", "#008000"];
var colLeft = [58, 357, 656, 955], rowTop = [40, 303, 565, 828];
var pw = 260, ph = 222, cap = 4;

var svg = d3.select("body").append("svg").attr("width", 1225).attr("height", 1109);

var x = d3.scaleLinear().domain([-3, 3]).range([0, pw]);
var y = d3.scaleLinear().domain([2, 6.5]).range([ph, 0]);
var line = d3.line().x(function(d, i) { return x(xs[i]); }).y(function(d) { return y(d); });
var intFmt = d3.format("d");

function errPath(vals, errs) {
  var p = "";
  vals.forEach(function(v, i) {
    var cx = x(xs[i]), e = errs[i] / 100;
    var y0 = y(v - e), y1 = y(v + e);
    p += "M" + cx + "," + y0 + "V" + y1 +
         "M" + (cx - cap) + "," + y0 + "H" + (cx + cap) +
         "M" + (cx - cap) + "," + y1 + "H" + (cx + cap);
  });
  return p;
}

panelRows.forEach(function(row, r) {
  row.forEach(function(p, c) {
    var g = svg.append("g").attr("transform", "translate(" + colLeft[c] + "," + rowTop[r] + ")");
    var id = "clip" + r + "_" + c;
    g.append("clipPath").attr("id", id)
      .append("rect").attr("width", pw).attr("height", ph);

    var plot = g.append("g").attr("clip-path", "url(#" + id + ")");
    for (var k = 0; k < 3; k++) {
      var vals = p[2 * k], errs = p[2 * k + 1];
      plot.append("path")
        .attr("d", errPath(vals, errs))
        .attr("fill", "none").attr("stroke", colors[k]).attr("stroke-width", 1.2);
      plot.append("path")
        .attr("d", line(vals))
        .attr("fill", "none").attr("stroke", colors[k]).attr("stroke-width", 1.5);
    }

    // axes, ticks pointing inward on all four sides
    g.append("g").attr("transform", "translate(0," + ph + ")")
      .call(d3.axisBottom(x).tickValues(xTicks).tickFormat(intFmt)
        .tickSizeInner(-6).tickSizeOuter(0).tickPadding(5));
    g.append("g")
      .call(d3.axisTop(x).tickValues(xTicks).tickSizeInner(-6).tickSizeOuter(0).tickFormat(""));
    g.append("g")
      .call(d3.axisLeft(y).tickValues(yTicks).tickFormat(intFmt)
        .tickSizeInner(-6).tickSizeOuter(0).tickPadding(8));
    g.append("g").attr("transform", "translate(" + pw + ",0)")
      .call(d3.axisRight(y).tickValues(yTicks).tickSizeInner(-6).tickSizeOuter(0).tickFormat(""));
    g.selectAll(".domain").remove();

    g.append("rect").attr("x", 0.5).attr("y", 0.5).attr("width", pw).attr("height", ph)
      .attr("fill", "none").attr("stroke", "#000").attr("stroke-width", 1);

    // legend
    var leg = g.append("g");
    seriesNames.forEach(function(name, k) {
      var ly = 17 + 19 * k;
      var hx = [69, 83.5, 98];
      var hp = "M68," + ly + "H99";
      hx.forEach(function(bx) {
        hp += "M" + bx + "," + (ly - 9) + "V" + (ly + 9) +
              "M" + (bx - 4) + "," + (ly - 9) + "H" + (bx + 4) +
              "M" + (bx - 4) + "," + (ly + 9) + "H" + (bx + 4);
      });
      leg.append("path").attr("d", hp).attr("fill", "none")
        .attr("stroke", colors[k]).attr("stroke-width", 1.4);
      leg.append("text").attr("x", 115).attr("y", ly).attr("dy", "0.36em")
        .attr("font-size", "16.5px").text(name);
    });

    if (c === 0) {
      g.append("text")
        .attr("transform", "translate(-28," + (ph / 2) + ") rotate(-90)")
        .attr("text-anchor", "middle").attr("font-size", "21px")
        .text("Distance (Å)");
    }
    if (r === 3) {
      var xl = g.append("text").attr("x", pw / 2).attr("y", 272)
        .attr("text-anchor", "middle").attr("font-size", "21px")
        .style("white-space", "pre");
      xl.append("tspan").text("R");
      xl.append("tspan").attr("font-size", "14px").attr("dy", 5).text("1");
      xl.append("tspan").attr("dy", -5).text("-R");
      xl.append("tspan").attr("font-size", "14px").attr("dy", 5).text("2");
      xl.append("tspan").attr("dy", -5).text("  (Å)");
    }
  });
});

// column titles
ions.forEach(function(ion, c) {
  var t = svg.append("text").attr("x", colLeft[c] + pw / 2).attr("y", 31)
    .attr("text-anchor", "middle");
  t.append("tspan").attr("font-size", "23px").attr("font-weight", "bold").text(ion);
  t.append("tspan").attr("font-size", "15px").attr("dy", -10).text("2+");
});
</script>
</body>
</html>
